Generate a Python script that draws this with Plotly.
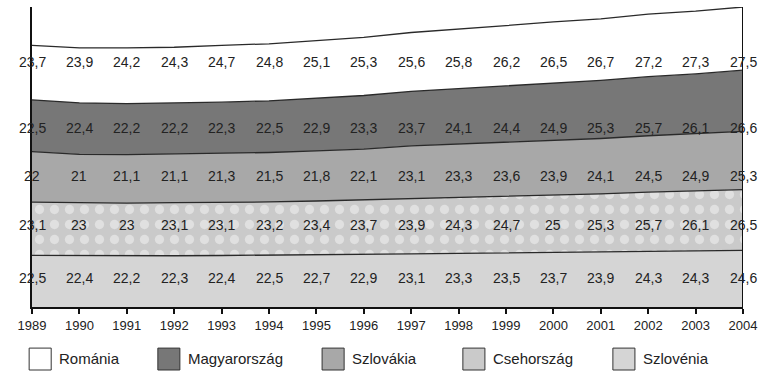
import plotly.graph_objects as go

years = list(range(1989, 2005))
series_names = ["Szlovénia", "Csehország", "Szlovákia", "Magyarország", "Románia"]
szlovenia = [22.5, 22.4, 22.2, 22.3, 22.4, 22.5, 22.7, 22.9, 23.1, 23.3, 23.5, 23.7, 23.9, 24.3, 24.3, 24.6]
csehorszag = [23.1, 23, 23, 23.1, 23.1, 23.2, 23.4, 23.7, 23.9, 24.3, 24.7, 25, 25.3, 25.7, 26.1, 26.5]
szlovakia = [22, 21, 21.1, 21.1, 21.3, 21.5, 21.8, 22.1, 23.1, 23.3, 23.6, 23.9, 24.1, 24.5, 24.9, 25.3]
magyarorszag = [22.5, 22.4, 22.2, 22.2, 22.3, 22.5, 22.9, 23.3, 23.7, 24.1, 24.4, 24.9, 25.3, 25.7, 26.1, 26.6]
romania = [23.7, 23.9, 24.2, 24.3, 24.7, 24.8, 25.1, 25.3, 25.6, 25.8, 26.2, 26.5, 26.7, 27.2, 27.3, 27.5]
all_series = [szlovenia, csehorszag, szlovakia, magyarorszag, romania]

fills = ["#d5d5d5", "#cacaca", "#a8a8a8", "#777777", "#ffffff"]
label_rows = [12.6, 35.7, 57.0, 78.0, 106.5]  # label row heights (data units)
FONT = "Liberation Sans, Arial, sans-serif"

def fmt(v):
    return ("%g" % v).replace(".", ",")

fig = go.Figure()
for name, vals, col in zip(series_names, all_series, fills):
    kw = {}
    if name == "Csehország":
        kw["fillpattern"] = dict(shape=".", fgcolor="#f6f6f6", bgcolor=col, size=15, solidity=0.3)
    fig.add_trace(go.Scatter(
        x=years, y=vals, name=name, stackgroup="one", mode="lines",
        line=dict(color="#2a2a2a", width=1.3), fillcolor=col, showlegend=False, **kw))

annotations = []
for vals, row in zip(all_series, label_rows):
    for yr, v in zip(years, vals):
        annotations.append(dict(x=yr, y=row, xref="x", yref="y", text=fmt(v), showarrow=False,
                                font=dict(family=FONT, size=14, color="#222")))

totals = [sum(s[i] for s in all_series) for i in range(len(years))]
shapes = [dict(type="line", xref="x", yref="y", x0=years[-1], x1=years[-1], y0=0, y1=totals[-1],
               line=dict(color="#111", width=2))]

# custom legend
leg_x = [-0.004, 0.177, 0.408, 0.606, 0.817]
leg_order = ["Románia", "Magyarország", "Szlovákia", "Csehország", "Szlovénia"]
leg_fill = dict(zip(series_names, fills))
for lx, nm in zip(leg_x, leg_order):
    shapes.append(dict(type="rect", xref="paper", yref="paper", x0=lx, x1=lx + 0.031, y0=-0.21, y1=-0.137,
                       fillcolor=leg_fill[nm], line=dict(color="#333", width=1)))
    annotations.append(dict(x=lx + 0.039, y=-0.173, xref="paper", yref="paper", text=nm, showarrow=False,
                            xanchor="left", yanchor="middle", font=dict(family=FONT, size=15, color="#222")))

fig.update_layout(
    width=777, height=375, margin=dict(l=32, r=34, t=7, b=68),
    paper_bgcolor="white", plot_bgcolor="white",
    showlegend=False, annotations=annotations, shapes=shapes,
    xaxis=dict(range=[years[0], years[-1]], tickvals=years, ticktext=[str(y) for y in years],
               showgrid=False, zeroline=False, showline=True, linecolor="#111", linewidth=2,
               ticks="outside", ticklen=5, tickwidth=2, tickcolor="#111",
               tickfont=dict(family=FONT, size=13, color="#222")),
    yaxis=dict(range=[0, 130.5], showgrid=False, zeroline=False, showline=True, linecolor="#111",
               linewidth=2, showticklabels=False, ticks=""),
)
fig.write_html("out.html")
